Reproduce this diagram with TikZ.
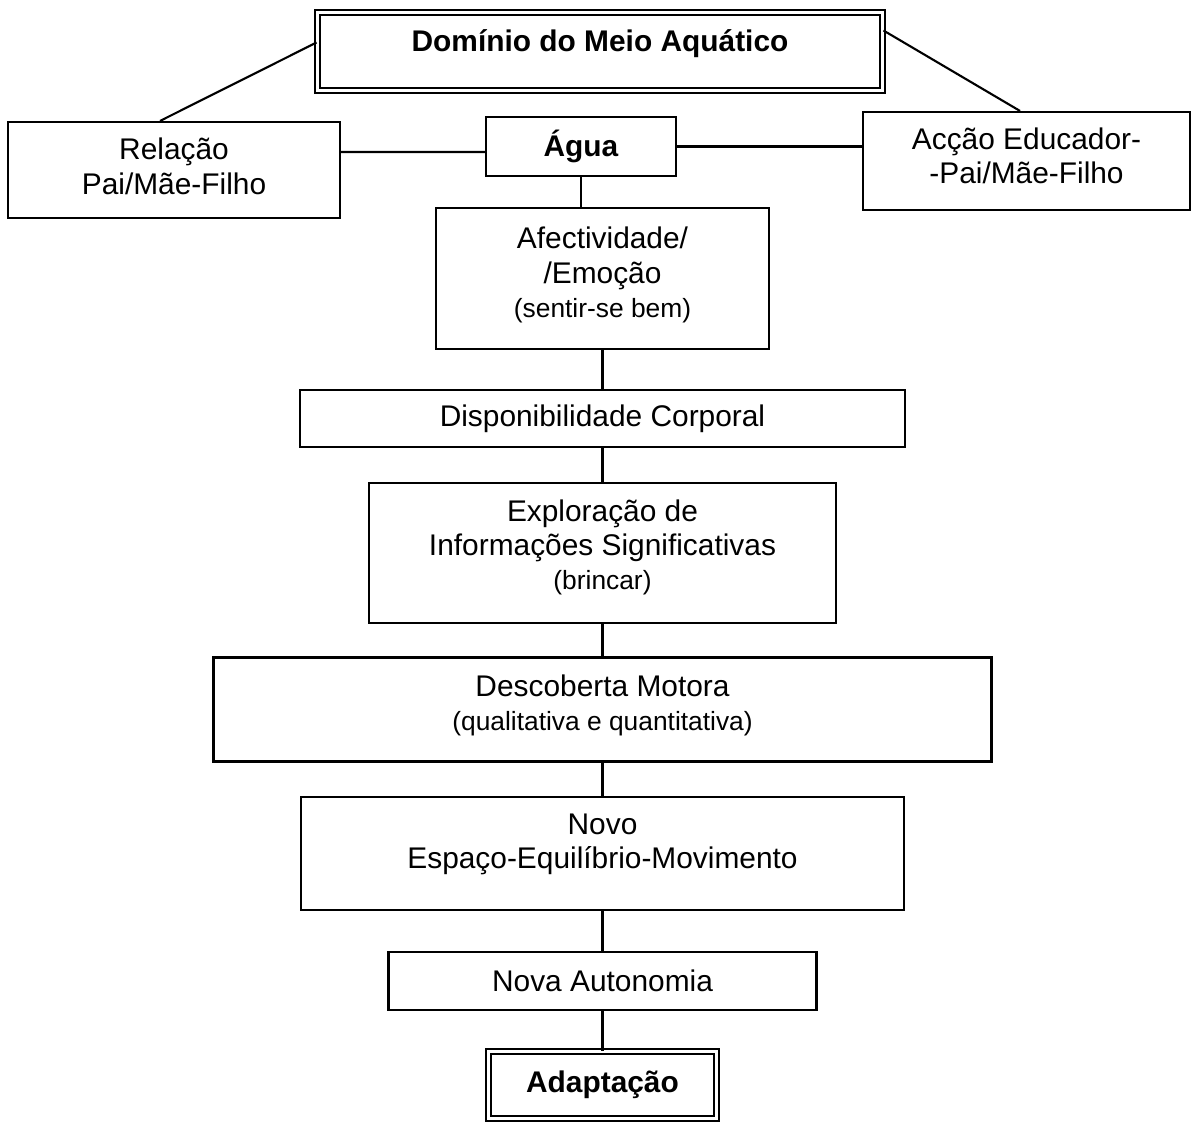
\documentclass[tikz,border=0pt]{standalone}
\usepackage{fontspec}
\setmainfont{Liberation Sans}
\usetikzlibrary{positioning}

\newcommand{\pequeno}{\fontsize{15}{18}\selectfont}

\begin{document}
\begin{tikzpicture}[-, line width=1.2pt, node distance=0.72cm, font=\fontsize{17}{19.5}\selectfont]
    \tikzstyle{caixa}=[draw=black,line width=1.2pt,align=center,inner sep=2pt]
    \tikzstyle{duplacaixa}=[draw=black,line width=1.1pt,double,double distance=1.8pt,align=center,font=\fontsize{17}{19.5}\selectfont\bfseries]

    \useasboundingbox (0,0) rectangle (23.88,-22.48);

    \node[duplacaixa,minimum width=11.3cm,minimum height=1.55cm,text height=0.5cm,text depth=0.5cm] (dominio) at (12,-1.03) {Domínio do Meio Aquático}; %topo
    \node[caixa,minimum width=3.8cm,minimum height=1.18cm,font=\fontsize{17}{19.5}\selectfont\bfseries] (agua) at (11.62,-2.93) {Água};
    \node[caixa,minimum width=6.64cm,minimum height=1.92cm,text height=31.9pt,text depth=4.3pt] (relacao) at (3.48,-3.4) {Relação\\Pai/Mãe-Filho}; %esquerda
    \node[caixa,minimum width=6.54cm,minimum height=1.96cm,text height=31.9pt,text depth=5.9pt] (accao) at (20.53,-3.22) {Acção Educador-\\-Pai/Mãe-Filho}; %direita

    % coluna central
    \node[caixa,minimum width=6.66cm,minimum height=2.82cm,text height=51.4pt,text depth=7.2pt] (afectividade) [below=0.60cm of agua,xshift=0.43cm] {Afectividade/\\/Emoção\\{\pequeno (sentir-se bem)}};
    \node[caixa,minimum width=12.1cm,minimum height=1.14cm] (disponibilidade) [below=0.78cm of afectividade] {Disponibilidade Corporal};
    \node[caixa,minimum width=9.34cm,minimum height=2.8cm,text height=51.4pt,text depth=10pt] (exploracao) [below=0.68cm of disponibilidade] {Exploração de\\Informações Significativas\\{\pequeno (brincar)}};
    \node[caixa,minimum width=15.56cm,minimum height=2.08cm,text height=31.9pt,text depth=7.8pt] (descoberta) [below=0.64cm of exploracao] {Descoberta Motora\\{\pequeno (qualitativa e quantitativa)}};
    \node[caixa,minimum width=12.06cm,minimum height=2.26cm,text height=31.9pt,text depth=13.8pt] (novo) [below=0.66cm of descoberta] {Novo\\Espaço-Equilíbrio-Movimento};
    \node[caixa,minimum width=8.56cm,minimum height=1.16cm] (autonomia) [below=0.80cm of novo] {Nova Autonomia};
    \node[duplacaixa,minimum width=4.56cm,minimum height=1.34cm] (adaptacao) [below=0.80cm of autonomia] {Adaptação}; %fim

    % ligacoes de cima
    \path ([yshift=0.18cm]dominio.west) edge ([xshift=-0.28cm]relacao.north);
    \path ([yshift=0.42cm]dominio.east) edge ([xshift=-0.13cm]accao.north);
    \path ([yshift=0.36cm]relacao.east) edge ([yshift=-0.11cm]agua.west);
    \path (agua.east) edge (agua.east -| accao.west);

    % ligacoes verticais
    \path (agua.south) edge (agua.south |- afectividade.north);
    \path (afectividade) edge (disponibilidade);
    \path (disponibilidade) edge (exploracao);
    \path (exploracao) edge (descoberta);
    \path (descoberta) edge (novo);
    \path (novo) edge (autonomia);
    \path (autonomia) edge (adaptacao);

\end{tikzpicture}
\end{document}
